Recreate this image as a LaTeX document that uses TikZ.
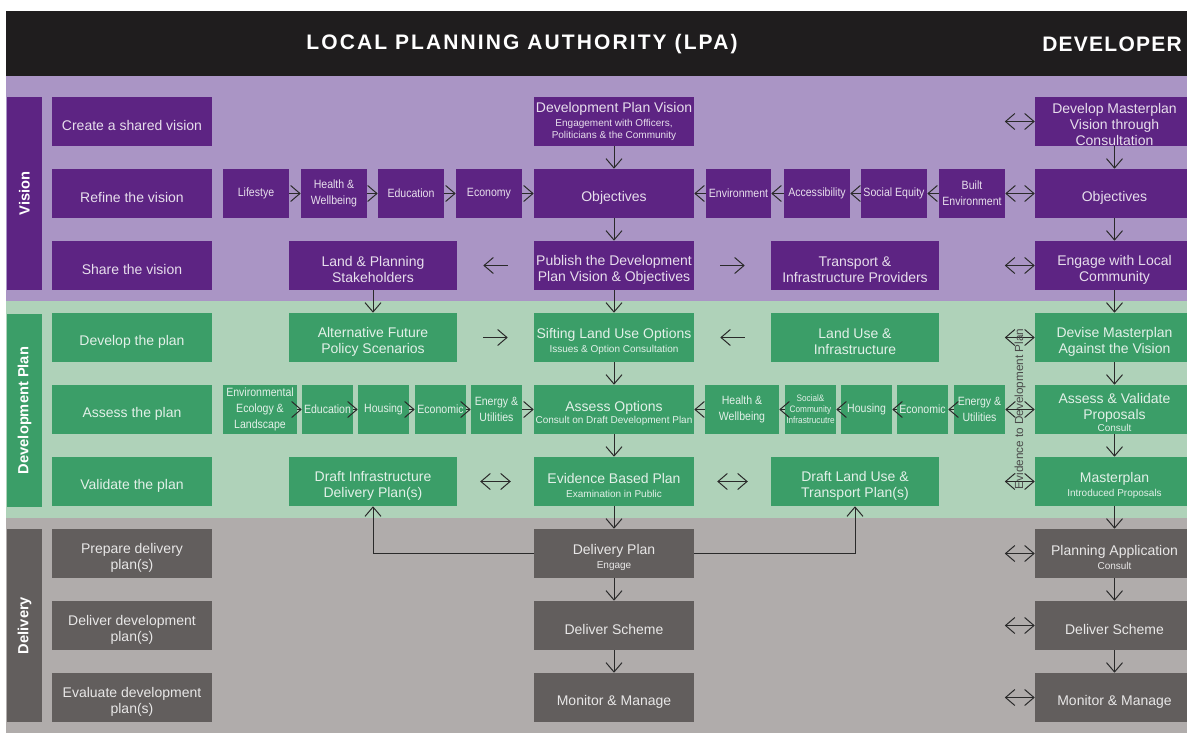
\documentclass[tikz,border=0pt]{standalone}
\usepackage{fontspec}
\setmainfont{Liberation Sans}
\newfontfamily\condf{Liberation Sans}[FakeStretch=0.88]
\newfontfamily\hdrf{Liberation Sans}[LetterSpace=10]
\newfontfamily\hdrfb{Liberation Sans}[LetterSpace=6]
\usetikzlibrary{arrows.meta,calc}
\definecolor{hdrbg}{HTML}{1F1D1E}
\definecolor{lpur}{HTML}{AA95C5}
\definecolor{dpur}{HTML}{5D2483}
\definecolor{lgrn}{HTML}{AFD2B9}
\definecolor{dgrn}{HTML}{3B9E68}
\definecolor{lgry}{HTML}{B0ACAB}
\definecolor{dgry}{HTML}{625E5D}
\definecolor{arrc}{HTML}{2A2A2A}
\newcommand\mainf{\fontsize{10.5}{12}\selectfont}
\newcommand\subf{\fontsize{7.5}{9}\selectfont}
\newcommand\smallf{\condf\fontsize{9}{12}\selectfont}
\newcommand\tinyf{\condf\fontsize{7}{8.3}\selectfont}
\newcommand\T{\rule{0pt}{13.6pt}}
\newcommand\Ts{\rule{0pt}{11.8pt}}
\begin{document}
\begin{tikzpicture}[x=0.75pt,y=-0.75pt,
  base/.style={inner sep=0pt, minimum height=36.75pt, align=center},
  box/.style={base, font=\mainf},
  sbox/.style={base, font=\smallf},
  bw/.style={minimum width={#1*0.75pt}},
  P/.style={fill=dpur, text=white!85!dpur},
  G/.style={fill=dgrn, text=white!85!dgrn},
  Y/.style={fill=dgry, text=white!85!dgry},
  bar/.style={fill=#1, text=white, inner sep=0pt, minimum width=144.75pt, minimum height=26.25pt, font=\fontsize{11}{13}\selectfont\bfseries},
  arr/.style={draw=arrc, line width=0.75pt, -{Straight Barb[length=7pt,width=12pt]}},
  arrb/.style={draw=arrc, line width=0.75pt, {Straight Barb[length=7pt,width=12pt]}-{Straight Barb[length=7pt,width=12pt]}},
  hdr/.style={text=white, inner sep=0pt, font=\hdrf\fontsize{15.75}{18}\selectfont\bfseries},
]
\useasboundingbox (0,0) rectangle (1187,735);
\fill[white] (0,0) rectangle (1187,735);
\fill[hdrbg] (6,11) rectangle (1187,76);
\fill[lpur] (6,76) rectangle (1187,301);
\fill[lgrn] (6,301) rectangle (1187,518);
\fill[lgry] (6,518) rectangle (1187,733);

% header
\node[hdr] (hl) at (522,44) {LOCAL PLANNING AUTHORITY (LPA)};
\node[hdr, anchor=west, font=\hdrfb\fontsize{15.75}{18}\selectfont\bfseries] (hd) at (1042,44) {DEVELOPER};

% side bars
\node[bar=dpur, rotate=90] (bV) at (24.5,193.5) {Vision};
\node[bar=dgrn, rotate=90] (bD) at (24.5,410.5) {Development Plan};
\node[bar=dgry, rotate=90] (bL) at (24.5,625.5) {Delivery};

% left column
\node[box,P,bw=160] (l1) at (132,121.5) {\T Create a shared vision};
\node[box,P,bw=160] (l2) at (132,193.5) {\T Refine the vision};
\node[box,P,bw=160] (l3) at (132,265.5) {\T Share the vision};
\node[box,G,bw=160] (l4) at (132,337.5) {\T Develop the plan};
\node[box,G,bw=160] (l5) at (132,409.5) {\T Assess the plan};
\node[box,G,bw=160] (l6) at (132,481.5) {\T Validate the plan};
\node[box,Y,bw=160] (l7) at (132,553.5) {\T Prepare delivery\\plan(s)};
\node[box,Y,bw=160] (l8) at (132,625.5) {\T Deliver development\\plan(s)};
\node[box,Y,bw=160] (l9) at (132,697.5) {\T Evaluate development\\plan(s)};

% row 1
\node[box,P,bw=160] (dpv) at (614,121.5) {Development Plan Vision\\[-1.5pt]{\subf Engagement with Officers,}\\[-2.5pt]{\subf Politicians \& the Community}};
\node[box,P,bw=159] (dmv) at (1114.5,121.5) {\Ts Develop Masterplan\\Vision through\\Consultation};

% row 2
\node[sbox,P,bw=66] (s1) at (256,193.5) {Lifestye};
\node[sbox,P,bw=66] (s2) at (334,193.5) {Health \&\\Wellbeing};
\node[sbox,P,bw=66] (s3) at (411,193.5) {Education};
\node[sbox,P,bw=66] (s4) at (489,193.5) {Economy};
\node[box,P,bw=160] (obj) at (614,193.5) {\T Objectives};
\node[sbox,P,bw=65] (e1) at (738.5,193.5) {Environment};
\node[sbox,P,bw=66] (e2) at (817,193.5) {Accessibility};
\node[sbox,P,bw=66] (e3) at (894,193.5) {Social Equity};
\node[sbox,P,bw=66] (e4) at (972,193.5) {Built\\Environment};
\node[box,P,bw=159] (objR) at (1114.5,193.5) {\T Objectives};

% row 3
\node[box,P,bw=168] (lps) at (373,265.5) {\T Land \& Planning\\Stakeholders};
\node[box,P,bw=160] (pub) at (614,265.5) {\T Publish the Development\\Plan Vision \& Objectives};
\node[box,P,bw=168] (tip) at (855,265.5) {\T Transport \&\\Infrastructure Providers};
\node[box,P,bw=159] (elc) at (1114.5,265.5) {\T Engage with Local\\Community};

% row 4
\node[box,G,bw=168] (afp) at (373,337.5) {\T Alternative Future\\Policy Scenarios};
\node[box,G,bw=160] (slu) at (614,337.5) {\T Sifting Land Use Options\\[-2pt]{\subf Issues \& Option Consultation}};
\node[box,G,bw=168] (lui) at (855,337.5) {\T Land Use \&\\Infrastructure};
\node[box,G,bw=159] (dmp) at (1114.5,337.5) {\T Devise Masterplan\\Against the Vision};

% row 5
\node[sbox,G,bw=74] (a1) at (260,409.5) {Environmental\\Ecology \&\\Landscape};
\node[sbox,G,bw=51] (a2) at (327.5,409.5) {Education};
\node[sbox,G,bw=51] (a3) at (383.5,409.5) {Housing};
\node[sbox,G,bw=51] (a4) at (440.5,409.5) {Economic};
\node[sbox,G,bw=51] (a5) at (496.5,409.5) {Energy \&\\Utilities};
\node[box,G,bw=160] (aso) at (614,409.5) {\T Assess Options\\[-3pt]{\subf Consult on Draft Development Plan}};
\node[sbox,G,bw=74] (b1) at (742,409.5) {Health \&\\Wellbeing};
\node[sbox,G,bw=51,font=\tinyf] (b2) at (810.5,409.5) {Social\&\\Community\\Infrastrucutre};
\node[sbox,G,bw=51] (b3) at (866.5,409.5) {Housing};
\node[sbox,G,bw=51] (b4) at (922.5,409.5) {Economic};
\node[sbox,G,bw=51] (b5) at (979.5,409.5) {Energy \&\\Utilities};
\node[box,G,bw=159] (avp) at (1114.5,409.5) {\Ts Assess \& Validate\\Proposals\\[-3pt]{\subf Consult}};

% row 6
\node[box,G,bw=168] (dip) at (373,481.5) {\T Draft Infrastructure\\Delivery Plan(s)};
\node[box,G,bw=160] (ebp) at (614,481.5) {\T Evidence Based Plan\\[-2pt]{\subf Examination in Public}};
\node[box,G,bw=168] (dlu) at (855,481.5) {\T Draft Land Use \&\\Transport Plan(s)};
\node[box,G,bw=159] (mp) at (1114.5,481.5) {\T Masterplan\\[-2pt]{\subf Introduced Proposals}};

% rows 7-9
\node[box,Y,bw=160] (dlp) at (614,553.5) {\T Delivery Plan\\[-2pt]{\subf Engage}};
\node[box,Y,bw=159] (pa) at (1114.5,553.5) {\T Planning Application\\[-2pt]{\subf Consult}};
\node[box,Y,bw=160] (ds) at (614,625.5) {\T Deliver Scheme};
\node[box,Y,bw=159] (dsR) at (1114.5,625.5) {\T Deliver Scheme};
\node[box,Y,bw=160] (mm) at (614,697.5) {\T Monitor \& Manage};
\node[box,Y,bw=159] (mmR) at (1114.5,697.5) {\T Monitor \& Manage};

% horizontal chains
\draw[arr] (s1.east) -- (s2.west);
\draw[arr] (s2.east) -- (s3.west);
\draw[arr] (s3.east) -- (s4.west);
\draw[arr] (s4.east) -- (obj.west);
\draw[arr] (e4.west) -- (e3.east);
\draw[arr] (e3.west) -- (e2.east);
\draw[arr] (e2.west) -- (e1.east);
\draw[arr] (e1.west) -- (obj.east);
\draw[arrb] (e4.east) -- (objR.west);

\draw[arr] (a1.east) -- (a2.west);
\draw[arr] (a2.east) -- (a3.west);
\draw[arr] (a3.east) -- (a4.west);
\draw[arr] (a4.east) -- (a5.west);
\draw[arr] (a5.east) -- (aso.west);
\draw[arr] (b5.west) -- (b4.east);
\draw[arr] (b4.west) -- (b3.east);
\draw[arr] (b3.west) -- (b2.east);
\draw[arr] (b2.west) -- (b1.east);
\draw[arr] (b1.west) -- (aso.east);
\draw[arrb] (b5.east) -- (avp.west);

% vertical chains
\draw[arr] (dpv.south) -- (obj.north);
\draw[arr] (obj.south) -- (pub.north);
\draw[arr] (pub.south) -- (slu.north);
\draw[arr] (slu.south) -- (aso.north);
\draw[arr] (aso.south) -- (ebp.north);
\draw[arr] (ebp.south) -- (dlp.north);
\draw[arr] (dlp.south) -- (ds.north);
\draw[arr] (ds.south) -- (mm.north);
\draw[arr] (lps.south) -- (afp.north);
\draw[arr] (dmv.south) -- (objR.north);
\draw[arr] (objR.south) -- (elc.north);
\draw[arr] (elc.south) -- (dmp.north);
\draw[arr] (dmp.south) -- (avp.north);
\draw[arr] (avp.south) -- (mp.north);
\draw[arr] (mp.south) -- (pa.north);
\draw[arr] (pa.south) -- (dsR.north);
\draw[arr] (dsR.south) -- (mmR.north);

% free-standing arrows
\draw[arr] ($(lps.east)!0.66!(pub.west)$) -- ($(lps.east)!0.34!(pub.west)$);
\draw[arr] ($(pub.east)!0.34!(tip.west)$) -- ($(pub.east)!0.66!(tip.west)$);
\draw[arr] ($(afp.east)!0.34!(slu.west)$) -- ($(afp.east)!0.66!(slu.west)$);
\draw[arr] ($(slu.east)!0.66!(lui.west)$) -- ($(slu.east)!0.34!(lui.west)$);
\draw[arrb] ($(dip.east)!0.3!(ebp.west)$) -- ($(dip.east)!0.7!(ebp.west)$);
\draw[arrb] ($(ebp.east)!0.3!(dlu.west)$) -- ($(ebp.east)!0.7!(dlu.west)$);
\foreach \n in {dmv,elc,dmp,mp,pa,dsR,mmR}{
  \draw[arrb] ($(\n.west)+(-30,0)$) -- (\n.west);
}

% elbows
\draw[arr] (dlp.west) -| (dip.south);
\draw[arr] (dlp.east) -| (dlu.south);

% vertical label
\node[rotate=90, text=arrc!85!white, font=\fontsize{8.8}{10}\selectfont, inner sep=0pt] (evd) at (1020,409) {Evidence to Development Plan};
\end{tikzpicture}
\end{document}
